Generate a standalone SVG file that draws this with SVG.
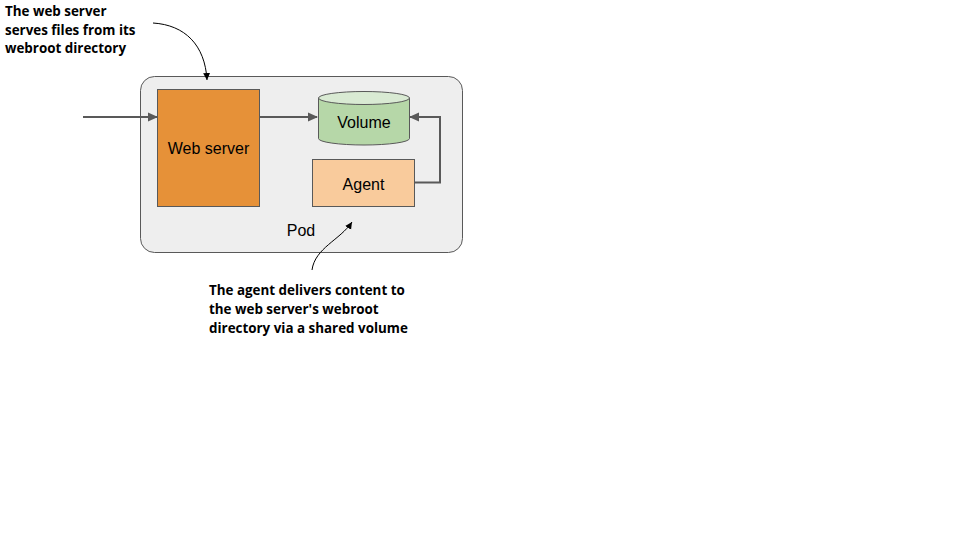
<svg xmlns="http://www.w3.org/2000/svg" width="960" height="540" viewBox="0 0 960 540">
<defs>
<marker id="ah" markerWidth="10" markerHeight="10" refX="9" refY="5" orient="auto" markerUnits="userSpaceOnUse">
<path d="M0,0.5 L10,5 L0,9.5 Z" fill="#595959"/>
</marker>
<marker id="ahs" markerWidth="8" markerHeight="8" refX="7" refY="4" orient="auto" markerUnits="userSpaceOnUse">
<path d="M0,0.5 L7,4 L0,7.5 Z" fill="#000"/>
</marker>
<style>
.lbl{font-family:"Liberation Sans",Arial,sans-serif;font-size:16px;fill:#000;text-anchor:middle}
.note{font-family:"Open Sans","Liberation Sans",sans-serif;font-size:13.4px;font-weight:bold;fill:#000}
.conn{fill:none;stroke:#595959;stroke-width:2}
.curve{fill:none;stroke:#000;stroke-width:1}
.box{stroke:#595959;stroke-width:1}
</style>
</defs>
<rect width="960" height="540" fill="#fff"/>
<g id="pod">
<rect x="140.5" y="76.5" width="322" height="176" rx="14" fill="#eeeeee" stroke="#595959" stroke-width="1"/>
<text class="lbl" x="301" y="236">Pod</text>
</g>
<g id="webserver">
<rect class="box" x="157.5" y="89.5" width="102" height="117" fill="#e69138"/>
<text class="lbl" x="208.5" y="154">Web server</text>
</g>
<g id="volume">
<path class="box" d="M318.5,98 L318.5,138.5 A45.5,6.5 0 0 0 409.5,138.5 L409.5,98 Z" fill="#b6d7a8"/>
<ellipse class="box" cx="364" cy="98" rx="45.5" ry="6.5" fill="#d9ead3"/>
<text class="lbl" x="364" y="128">Volume</text>
</g>
<g id="agent">
<rect class="box" x="312.5" y="159.5" width="102" height="47" fill="#f9cb9c"/>
<text class="lbl" x="363.5" y="189.5">Agent</text>
</g>
<g id="connectors">
<path class="conn" d="M83,117 L157,117" marker-end="url(#ah)"/>
<path class="conn" d="M260,117 L317,117" marker-end="url(#ah)"/>
<path class="conn" d="M415,182.5 L440,182.5 L440,117 L410,117" marker-end="url(#ah)"/>
<path class="curve" d="M153,23 C185,25 205,45 207,80" marker-end="url(#ahs)"/>
<path class="curve" d="M312,270 C315,248 340,240 352,222" marker-end="url(#ahs)"/>
</g>
<g id="notes">
<text class="note" x="5" y="16">The web server</text>
<text class="note" x="5" y="34.5">serves files from its</text>
<text class="note" x="5" y="53">webroot directory</text>
<text class="note" x="209" y="295">The agent delivers content to</text>
<text class="note" x="209" y="314">the web server's webroot</text>
<text class="note" x="209" y="333">directory via a shared volume</text>
</g>
</svg>
